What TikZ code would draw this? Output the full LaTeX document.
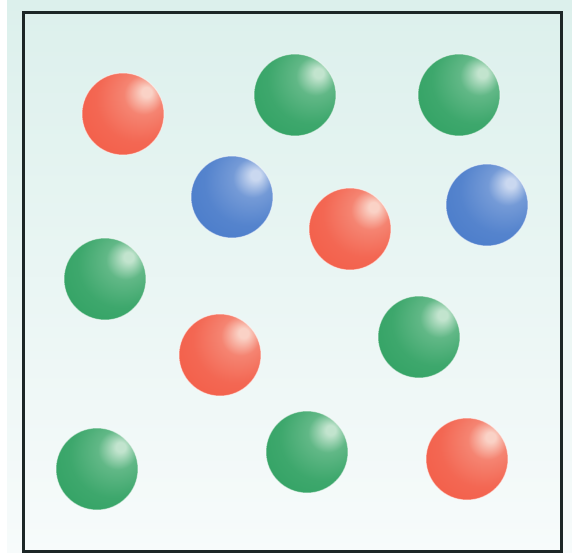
\documentclass[tikz,border=0pt]{standalone}
\usetikzlibrary{shadings}
\definecolor{bgtop}{HTML}{DCF0EC}
\definecolor{bgbot}{HTML}{F7FBFB}
\definecolor{frame}{HTML}{1C2626}
\definecolor{rhl}{HTML}{FAD2C6}
\definecolor{rbase}{HTML}{F25A44}
\definecolor{redge}{HTML}{E63A2C}
\definecolor{ghl}{HTML}{C2E4CE}
\definecolor{gbase}{HTML}{2DA060}
\definecolor{gedge}{HTML}{1A8A48}
\definecolor{bhl}{HTML}{CAD8F0}
\definecolor{bbase}{HTML}{4679C9}
\definecolor{bedge}{HTML}{2C58B2}
\pgfdeclareradialshading{redball}{\pgfpoint{15bp}{14bp}}{color(0bp)=(rhl); color(3bp)=(rhl); color(12bp)=(rbase!65!rhl); color(26bp)=(rbase!92!white); color(45bp)=(rbase); color(72bp)=(redge)}
\pgfdeclareradialshading{greenball}{\pgfpoint{15bp}{14bp}}{color(0bp)=(ghl); color(3bp)=(ghl); color(12bp)=(gbase!65!ghl); color(26bp)=(gbase!92!white); color(45bp)=(gbase); color(72bp)=(gedge)}
\pgfdeclareradialshading{blueball}{\pgfpoint{15bp}{14bp}}{color(0bp)=(bhl); color(3bp)=(bhl); color(12bp)=(bbase!65!bhl); color(26bp)=(bbase!92!white); color(45bp)=(bbase); color(72bp)=(bedge)}
\tikzset{
  ball/.style={circle, minimum size=82pt, inner sep=0pt, draw=white, draw opacity=0.5, line width=1pt},
  red ball/.style={ball, shading=redball},
  green ball/.style={ball, shading=greenball},
  blue ball/.style={ball, shading=blueball},
}
\begin{document}
\begin{tikzpicture}[x=1pt,y=-1pt]
\useasboundingbox (0,0) rectangle (572,553);
\fill[white] (0,0) rectangle (572,553);
\shade[top color=bgtop, bottom color=bgbot] (7,0) rectangle (572,553);
\draw[frame, line width=3pt] (23,13) rectangle (561,551);
\node[red ball] (r1) at (123,114) {};
\node[green ball] (g1) at (295,95) {};
\node[green ball] (g2) at (459,95) {};
\node[blue ball] (b1) at (232,197) {};
\node[red ball] (r2) at (350,229) {};
\node[blue ball] (b2) at (487,205) {};
\node[green ball] (g3) at (105,279) {};
\node[red ball] (r3) at (220,355) {};
\node[green ball] (g4) at (419,337) {};
\node[green ball] (g5) at (97,469) {};
\node[green ball] (g6) at (307,452) {};
\node[red ball] (r4) at (467,459) {};
\end{tikzpicture}
\end{document}
